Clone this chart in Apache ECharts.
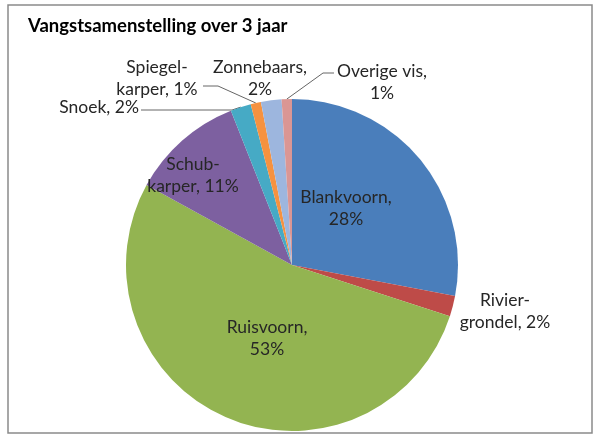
<!DOCTYPE html>
<html>
<head>
<meta charset="utf-8">
<script src="https://cdn.jsdelivr.net/npm/echarts@6/dist/echarts.min.js"></script>
<style>
html,body{margin:0;padding:0;background:#fff;}
#chart{width:594px;height:435px;}
</style>
</head>
<body>
<div id="chart"></div>
<script>
// Data
var titleText = 'Vangstsamenstelling over 3 jaar';
var categories = ['Blankvoorn', 'Riviergrondel', 'Ruisvoorn', 'Schubkarper', 'Snoek', 'Spiegelkarper', 'Zonnebaars', 'Overige vis'];
var labelTexts = ['Blankvoorn,\n28%', 'Rivier-\ngrondel, 2%', 'Ruisvoorn,\n53%', 'Schub-\nkarper, 11%', 'Snoek, 2%', 'Spiegel-\nkarper, 1%', 'Zonnebaars,\n2%', 'Overige vis,\n1%'];
var values = [28, 2, 53, 11, 2, 1, 2, 1];

// Style
var colors = ['#4A7EBB', '#BE4B48', '#93B451', '#7D60A0', '#46AAC5', '#F69240', '#9DB6DE', '#DA9694'];
var CX = 292, CY = 265, R = 166;
var labelPlace = [
  {x: 346, y: 208, align: 'center'},
  {x: 505, y: 311, align: 'center'},
  {x: 267, y: 338, align: 'center'},
  {x: 193, y: 175, align: 'center'},
  {x: 139, y: 107, align: 'right', line: [[141, 110], [232, 110]]},
  {x: 157, y: 78, align: 'center', line: [[203, 86], [218, 86]]},
  {x: 260, y: 78, align: 'center'},
  {x: 382, y: 82, align: 'center', line: [[334, 73], [323, 73]]}
];

var chart = echarts.init(document.getElementById('chart'));
var seriesData = categories.map(function (c, i) {
  return {
    name: c,
    value: values[i],
    itemStyle: {color: colors[i]},
    labelLine: {show: !!labelPlace[i].line}
  };
});

function edgePoint(i) {
  var total = values.reduce(function (a, b) { return a + b; }, 0);
  var cum = 0;
  for (var k = 0; k < i; k++) cum += values[k];
  var mid = (cum + values[i] / 2) / total * Math.PI * 2;
  return [CX + R * Math.sin(mid), CY - R * Math.cos(mid)];
}

chart.setOption({
  animation: false,
  backgroundColor: '#ffffff',
  title: {
    text: titleText,
    left: 23,
    top: 12,
    textStyle: {fontFamily: 'Lato', fontWeight: 'bold', fontSize: 18.5, color: '#000'}
  },
  graphic: [{
    type: 'rect',
    shape: {x: 8, y: 5, width: 584, height: 428},
    style: {fill: 'none', stroke: '#8a8a8a', lineWidth: 1.5},
    z: -1
  }],
  series: [{
    type: 'pie',
    center: [CX, CY],
    radius: R,
    startAngle: 90,
    clockwise: true,
    data: seriesData,
    label: {
      show: true,
      formatter: function (p) { return labelTexts[p.dataIndex]; },
      fontFamily: 'Lato',
      fontSize: 17.5,
      lineHeight: 22,
      color: '#262626',
      position: 'outside'
    },
    labelLine: {show: true, lineStyle: {color: '#666', width: 1}, length: 10, length2: 10},
    labelLayout: function (p) {
      var L = labelPlace[p.dataIndex];
      var res = {x: L.x, y: L.y, align: L.align, verticalAlign: 'middle'};
      if (L.line) {
        var e = edgePoint(p.dataIndex);
        res.labelLinePoints = [e, L.line[1], L.line[0]];
      }
      return res;
    },
    emphasis: {disabled: true}
  }]
});
</script>
</body>
</html>
